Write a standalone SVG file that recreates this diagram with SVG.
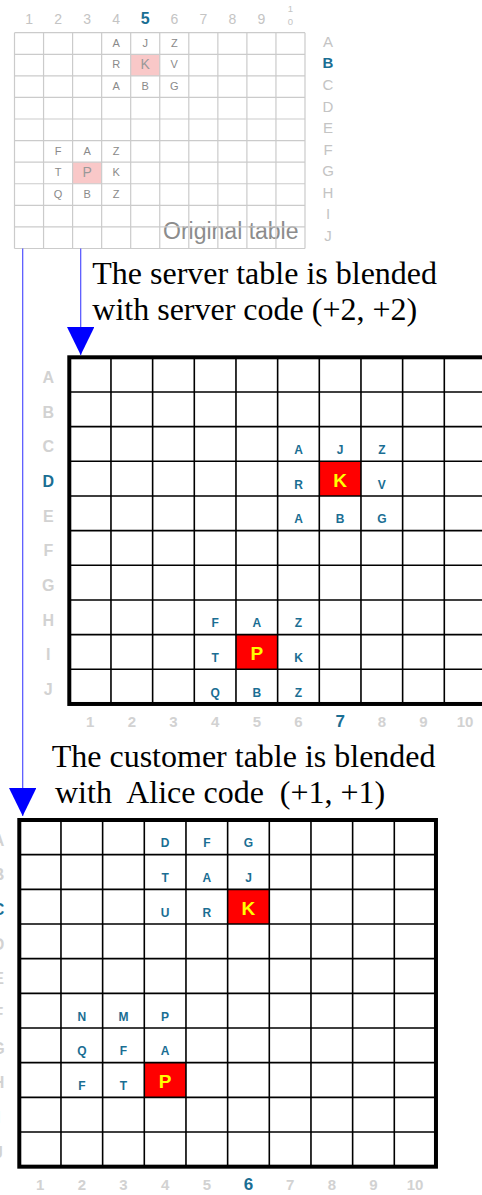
<svg xmlns="http://www.w3.org/2000/svg" width="482" height="1195" viewBox="0 0 482 1195">
<style>
.bg{fill:#ffffff}
.ggrid{fill:none;stroke:#cbcbcb;stroke-width:1.2}
.bgrid{fill:none;stroke:#000;stroke-width:1.6}
.bout{fill:none;stroke:#000;stroke-width:4}
.sans{font-family:"Liberation Sans",Arial,sans-serif;text-anchor:middle}
.hdr{fill:#c4c4c4;font-size:14px}
.hdrb{fill:#d2d2d2;font-size:15px;font-weight:bold}
.hl{fill:#1a6e93;font-weight:bold}
.gl{fill:#8a8a8a;font-size:11px}
.bl{fill:#1a6e93;font-size:12px;font-weight:bold}
.big{fill:#ffff00;font-size:19px;font-weight:bold}
.pink{fill:#f9c8c8}
.red{fill:#ff0000}
.cap{font-family:"Liberation Serif","Times New Roman",serif;font-size:32px;fill:#000}
.conn{fill:none;stroke:#5050ff;stroke-width:1.2}
</style>
<defs>
<marker id="arr" viewBox="0 0 28 27.4" markerWidth="28" markerHeight="27.4" refX="28" refY="13.7" orient="auto" markerUnits="userSpaceOnUse">
<path d="M0,0 L28,13.7 L0,27.4 z" fill="#0000ff"/>
</marker>
</defs>
<rect class="bg" x="0" y="0" width="482" height="1195"/>

<g id="original-table">
<rect class="pink" x="130.7" y="54.28" width="29.05" height="21.58"/>
<rect class="pink" x="72.6" y="162.18" width="29.05" height="21.58"/>
<text class="sans" x="163" y="239" style="text-anchor:start;font-size:23px;fill:#8c8c8c">Original table</text>
<path class="ggrid" d="M14.5,32.7V248.5M43.55,32.7V248.5M72.6,32.7V248.5M101.65,32.7V248.5M130.7,32.7V248.5M159.75,32.7V248.5M188.8,32.7V248.5M217.85,32.7V248.5M246.9,32.7V248.5M275.95,32.7V248.5M305,32.7V248.5M14.5,32.7H305M14.5,54.28H305M14.5,75.86H305M14.5,97.44H305M14.5,119.02H305M14.5,140.6H305M14.5,162.18H305M14.5,183.76H305M14.5,205.34H305M14.5,226.92H305M14.5,248.5H305"/>
<g class="sans hdr">
<text x="29.03" y="24">1</text><text x="58.08" y="24">2</text><text x="87.13" y="24">3</text><text x="116.18" y="24">4</text>
<text x="145.23" y="24" class="hl" style="font-size:16px">5</text>
<text x="174.28" y="24">6</text><text x="203.33" y="24">7</text><text x="232.38" y="24">8</text><text x="261.43" y="24">9</text>
<text x="290.48" y="11.7" style="font-size:9.5px">1</text><text x="290.48" y="25" style="font-size:9.5px">0</text>
</g>
<g class="sans hdr" style="font-size:15px">
<text x="328" y="46.8">A</text><text x="328" y="68.4" class="hl">B</text><text x="328" y="90">C</text><text x="328" y="111.5">D</text><text x="328" y="133.1">E</text><text x="328" y="154.7">F</text><text x="328" y="176.3">G</text><text x="328" y="197.9">H</text><text x="328" y="219.4">I</text><text x="328" y="241">J</text>
</g>
<g class="sans gl">
<text x="116.18" y="46.7">A</text><text x="145.23" y="46.7">J</text><text x="174.28" y="46.7">Z</text>
<text x="116.18" y="68.3">R</text><text x="145.23" y="68.9" style="font-size:14px;fill:#999">K</text><text x="174.28" y="68.3">V</text>
<text x="116.18" y="89.9">A</text><text x="145.23" y="89.9">B</text><text x="174.28" y="89.9">G</text>
<text x="58.08" y="154.6">F</text><text x="87.13" y="154.6">A</text><text x="116.18" y="154.6">Z</text>
<text x="58.08" y="176.2">T</text><text x="87.13" y="176.8" style="font-size:14px;fill:#999">P</text><text x="116.18" y="176.2">K</text>
<text x="58.08" y="197.8">Q</text><text x="87.13" y="197.8">B</text><text x="116.18" y="197.8">Z</text>
</g>
</g>

<g id="caption-server">
<text class="cap" x="92.3" y="284.3">The server table is blended</text>
<text class="cap" x="92.3" y="320">with server code (+2, +2)</text>
</g>

<g id="server-table">
<rect class="red" x="319.3" y="461.3" width="41.67" height="34.67"/>
<rect class="red" x="235.97" y="634.63" width="41.67" height="34.67"/>
<path class="bgrid" d="M110.97,357.3V703.97M152.63,357.3V703.97M194.3,357.3V703.97M235.97,357.3V703.97M277.63,357.3V703.97M319.3,357.3V703.97M360.97,357.3V703.97M402.63,357.3V703.97M444.3,357.3V703.97M69.3,391.97H486M69.3,426.63H486M69.3,461.3H486M69.3,495.97H486M69.3,530.63H486M69.3,565.3H486M69.3,599.97H486M69.3,634.63H486M69.3,669.3H486"/>
<rect class="bout" x="69.3" y="357.3" width="416.7" height="346.67"/>
<g class="sans hdrb" style="font-size:16px">
<text x="48.3" y="382.9">A</text><text x="48.3" y="417.6">B</text><text x="48.3" y="452.3">C</text><text x="48.3" y="486.9" class="hl">D</text><text x="48.3" y="521.6">E</text><text x="48.3" y="556.3">F</text><text x="48.3" y="590.9">G</text><text x="48.3" y="625.6">H</text><text x="48.3" y="660.3">I</text><text x="48.3" y="694.9">J</text>
</g>
<g class="sans hdrb">
<text x="90.13" y="727.3">1</text><text x="131.8" y="727.3">2</text><text x="173.47" y="727.3">3</text><text x="215.13" y="727.3">4</text><text x="256.8" y="727.3">5</text><text x="298.47" y="727.3">6</text>
<text x="340.13" y="727.3" class="hl" style="font-size:17px">7</text>
<text x="381.8" y="727.3">8</text><text x="423.47" y="727.3">9</text><text x="465.13" y="727.3">10</text>
</g>
<g class="sans bl">
<text x="298.47" y="453.8">A</text><text x="340.13" y="453.8">J</text><text x="381.8" y="453.8">Z</text>
<text x="298.47" y="488.5">R</text><text x="381.8" y="488.5">V</text>
<text x="298.47" y="523.1">A</text><text x="340.13" y="523.1">B</text><text x="381.8" y="523.1">G</text>
<text x="215.13" y="627.1">F</text><text x="256.8" y="627.1">A</text><text x="298.47" y="627.1">Z</text>
<text x="215.13" y="661.8">T</text><text x="298.47" y="661.8">K</text>
<text x="215.13" y="696.5">Q</text><text x="256.8" y="696.5">B</text><text x="298.47" y="696.5">Z</text>
</g>
<text class="sans big" x="340.13" y="487.3">K</text>
<text class="sans big" x="256.8" y="660">P</text>
</g>

<g id="caption-customer">
<text class="cap" x="51.7" y="766.7">The customer table is blended</text>
<text class="cap" x="55" y="802.7" xml:space="preserve">with  Alice code  (+1, +1)</text>
</g>

<g id="customer-table">
<rect class="red" x="227.63" y="889.33" width="41.67" height="34.67"/>
<rect class="red" x="144.3" y="1062.67" width="41.67" height="34.67"/>
<path class="bgrid" d="M60.97,820V1166.67M102.63,820V1166.67M144.3,820V1166.67M185.97,820V1166.67M227.63,820V1166.67M269.3,820V1166.67M310.97,820V1166.67M352.63,820V1166.67M394.3,820V1166.67M19.3,854.67H435.97M19.3,889.33H435.97M19.3,924H435.97M19.3,958.67H435.97M19.3,993.33H435.97M19.3,1028H435.97M19.3,1062.67H435.97M19.3,1097.33H435.97M19.3,1132H435.97"/>
<rect class="bout" x="19.3" y="820" width="416.67" height="346.67"/>
<g class="sans hdrb" style="font-size:16px">
<text x="-1.5" y="845.6">A</text><text x="-1.5" y="880.3">B</text><text x="-1.5" y="915" class="hl">C</text><text x="-1.5" y="949.6">D</text><text x="-1.5" y="984.3">E</text><text x="-1.5" y="1019">F</text><text x="-1.5" y="1053.6">G</text><text x="-1.5" y="1088.3">H</text><text x="-1.5" y="1123">I</text><text x="-1.5" y="1157.6">J</text>
</g>
<g class="sans hdrb">
<text x="40.13" y="1190">1</text><text x="81.8" y="1190">2</text><text x="123.47" y="1190">3</text><text x="165.13" y="1190">4</text><text x="206.8" y="1190">5</text>
<text x="248.47" y="1190" class="hl" style="font-size:17px">6</text>
<text x="290.13" y="1190">7</text><text x="331.8" y="1190">8</text><text x="373.47" y="1190">9</text><text x="415.13" y="1190">10</text>
</g>
<g class="sans bl">
<text x="165.13" y="847.2">D</text><text x="206.8" y="847.2">F</text><text x="248.47" y="847.2">G</text>
<text x="165.13" y="881.8">T</text><text x="206.8" y="881.8">A</text><text x="248.47" y="881.8">J</text>
<text x="165.13" y="916.5">U</text><text x="206.8" y="916.5">R</text>
<text x="81.8" y="1020.5">N</text><text x="123.47" y="1020.5">M</text><text x="165.13" y="1020.5">P</text>
<text x="81.8" y="1055.2">Q</text><text x="123.47" y="1055.2">F</text><text x="165.13" y="1055.2">A</text>
<text x="81.8" y="1089.8">F</text><text x="123.47" y="1089.8">T</text>
</g>
<text class="sans big" x="248.47" y="915.3">K</text>
<text class="sans big" x="165.13" y="1088.3">P</text>
</g>

<g id="connectors">
<path class="conn" d="M80.7,248.5V355" marker-end="url(#arr)"/>
<path class="conn" d="M22.7,248.5V816" marker-end="url(#arr)"/>
</g>
</svg>
